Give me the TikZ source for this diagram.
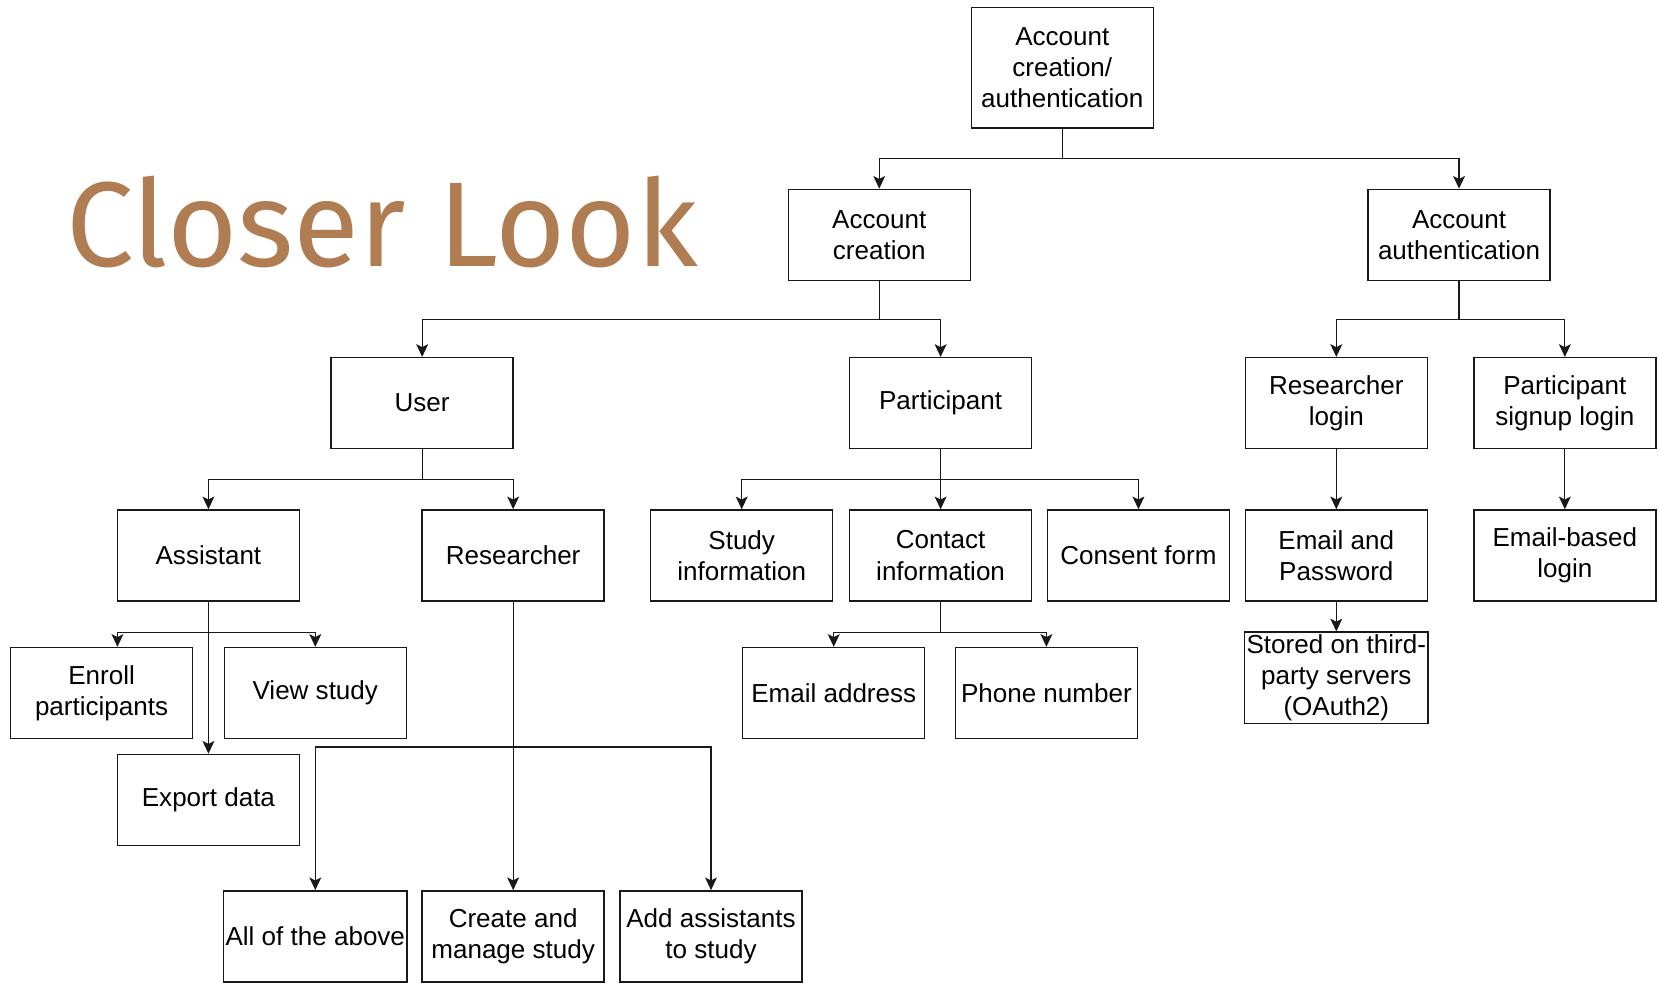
\documentclass[tikz,border=0pt]{standalone}
\usepackage{fontspec}
\setmainfont{Liberation Sans}
\newfontfamily\titlefont{Fira Sans}
\usetikzlibrary{arrows.meta}

\begin{document}
\begin{tikzpicture}[x=0.5pt,y=0.5pt,
  box/.style={draw=drawColor,line width=0.65pt,minimum width=86pt,minimum height=43pt,
    inner sep=1pt,align=center,font=\fontsize{12.3}{14.8}\selectfont},
  link/.style={draw=drawColor,line width=0.6pt,-{Stealth[length=6pt,width=5.6pt,inset=1.4pt]}},
  wire/.style={draw=drawColor,line width=0.6pt}]
\definecolor{fillColor}{RGB}{255,255,255}
\definecolor{drawColor}{RGB}{25,25,25}
\definecolor{titleColor}{RGB}{176,124,82}
\path[use as bounding box,fill=fillColor] (0,0) rectangle (1568,929);

% title
\node[anchor=base west,inner sep=0pt,text=titleColor,font=\titlefont\fontsize{57}{60}\selectfont] (title) at (62,677) {Closer Look};

% boxes
\node[box,minimum height=57pt] (root) at (1004,865) {Account\\creation/\\authentication};

\node[box] (acre) at (831,707) {Account\\creation};
\node[box] (aauth) at (1379,707) {Account\\authentication};

\node[box] (user) at (399,548) {User};
\node[box] (part) at (889,548) {Participant};
\node[box] (rlogin) at (1263,548) {Researcher\\login};
\node[box] (plogin) at (1479,548) {Participant\\signup login};

\node[box] (assist) at (197,404) {Assistant};
\node[box] (resr) at (485,404) {Researcher};
\node[box] (studyinfo) at (701,404) {Study\\information};
\node[box] (contact) at (889,404) {Contact\\information};
\node[box] (consent) at (1076,404) {Consent form};
\node[box] (emailpw) at (1263,404) {Email and\\Password};
\node[box] (emaillogin) at (1479,404) {Email-based\\login};

\node[box] (enroll) at (96,274) {Enroll\\participants};
\node[box] (view) at (298,274) {View study};
\node[box] (emailaddr) at (788,274) {Email address};
\node[box] (phone) at (989,274) {Phone number};
\node[box] (stored) at (1263,288.5) {Stored on third-\\party servers\\(OAuth2)};

\node[box] (export) at (197,173) {Export data};

\node[box] (allabove) at (298,44) {All of the above};
\node[box] (create) at (485,44) {Create and\\manage study};
\node[box] (addassist) at (672,44) {Add assistants\\to study};

% junctions
\coordinate (jroot) at (1004,779);
\coordinate (jacre) at (831,627);
\coordinate (jaauth) at (1379,627);
\coordinate (juser) at (399,476);
\coordinate (jpart) at (889,476);
\coordinate (jenroll) at (111,331);
\coordinate (jview) at (298,331);
\coordinate (jcontact) at (889,331);
\coordinate (jall) at (298,223);
\coordinate (jadd) at (672,223);

% connectors
\draw[wire] (root.south) -- (jroot);
\draw[link] (jroot) -| (acre.north);
\draw[link] (jroot) -| (aauth.north);

\draw[link] (acre.south) |- (jacre) -| (user.north);
\draw[link] (jacre) -| (part.north);
\draw[link] (aauth.south) |- (jaauth) -| (rlogin.north);
\draw[link] (jaauth) -| (plogin.north);

\draw[link] (user.south) |- (juser) -| (assist.north);
\draw[link] (juser) -| (resr.north);
\draw[link] (part.south) |- (jpart) -| (studyinfo.north);
\draw[link] (jpart) -- (contact.north);
\draw[link] (jpart) -| (consent.north);
\draw[link] (rlogin) -- (emailpw);
\draw[link] (plogin) -- (emaillogin);

\draw[link] (assist.south) |- (jenroll) -- (jenroll |- enroll.north);
\draw[link] (assist.south) |- (jview) -- (view.north);
\draw[link] (assist) -- (export);
\draw[link] (contact.south) |- (jcontact) -| (emailaddr.north);
\draw[link] (jcontact) -| (phone.north);
\draw[link] (emailpw) -- (stored);

\draw[link] (resr) -- (create);
\draw[link] (resr.south) |- (jall) -- (allabove.north);
\draw[link] (resr.south) |- (jadd) -- (addassist.north);
\end{tikzpicture}
\end{document}
